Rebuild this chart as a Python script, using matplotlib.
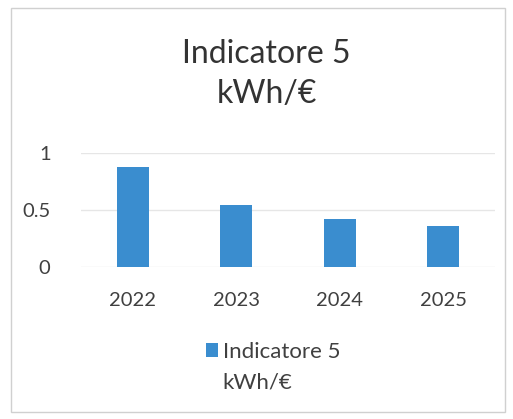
import matplotlib
matplotlib.use("Agg")
import matplotlib.pyplot as plt
from matplotlib.patches import Rectangle

plt.rcParams["font.family"] = ["Lato", "DejaVu Sans"]

years = ["2022", "2023", "2024", "2025"]
values = [0.88, 0.545, 0.42, 0.355]
series_name = ["Indicatore 5", "kWh/€"]
title = "Indicatore 5\nkWh/€"

bar_color = "#3A8DCF"
text_color = "#404040"

fig = plt.figure(figsize=(5.13, 4.19), dpi=100)
ax = fig.add_axes([0.158, 0.363, 0.807, 0.272])

bars = ax.bar(range(len(years)), values, width=0.31, color=bar_color, zorder=2)

ax.set_xlim(-0.5, len(years) - 0.5)
ax.set_ylim(0, 1)
ax.set_yticks([0, 0.5, 1])
ax.set_yticklabels(["0", "0.5", "1"])
ax.set_xticks(range(len(years)))
ax.set_xticklabels(years)
ax.tick_params(length=0, labelsize=14.5, colors=text_color)
ax.tick_params(axis="x", pad=18)
ax.tick_params(axis="y", pad=22)
ax.grid(axis="y", color="#e6e6e6", linewidth=1, zorder=0)
for s in ax.spines.values():
    s.set_visible(False)

fig.text(0.52, 0.823, title, ha="center", va="center", fontsize=23, color="#333333", linespacing=1.42)

# legend: first line next to the square, second line underneath
leg = fig.legend(handles=[bars], labels=[series_name[0]], loc="center left", bbox_to_anchor=(186 / 513, 1 - 352 / 419),
                 frameon=False, fontsize=16, handlelength=0.55, handleheight=0.55, handletextpad=0.2,
                 labelcolor=text_color)
fig.canvas.draw()
bb = leg.get_texts()[0].get_window_extent().transformed(fig.transFigure.inverted())
fig.text(bb.x0, bb.y0 - 0.05, series_name[1], ha="left", va="center", fontsize=16, color=text_color)

fig.patches.append(Rectangle((11 / 513, 7 / 419), 494 / 513, 404 / 419, transform=fig.transFigure,
                             fill=False, edgecolor="#d0d0d0", linewidth=1))

fig.savefig("out.png", dpi=100)
